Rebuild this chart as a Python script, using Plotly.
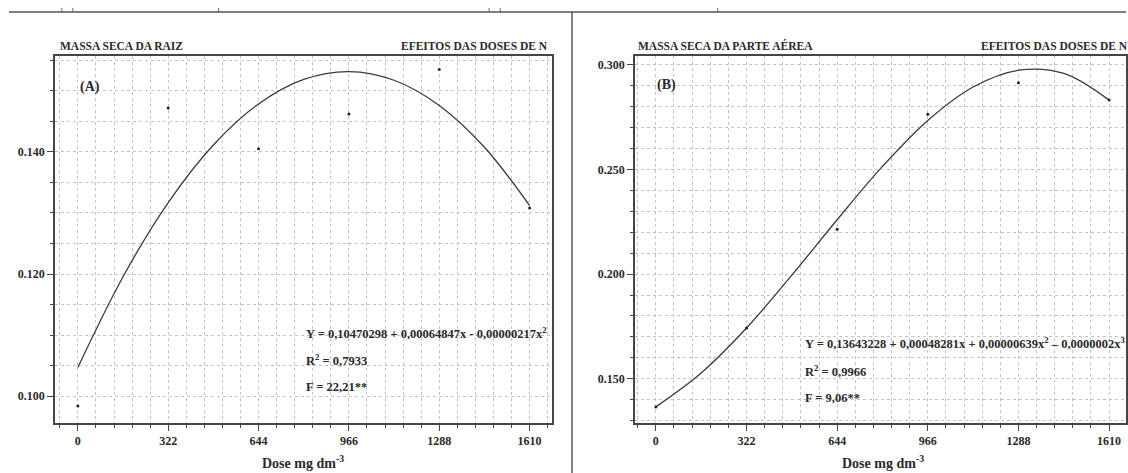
import plotly.graph_objects as go

# ---------------- data ----------------
doses = [0, 322, 644, 966, 1288, 1610]
raiz_obs = [0.0984, 0.1472, 0.1405, 0.1462, 0.1535, 0.1308]
aerea_obs = [0.1365, 0.1742, 0.2215, 0.2765, 0.2915, 0.2832]

curve_doses = [0, 161, 322, 483, 644, 805, 966, 1127, 1288, 1449, 1610]
raiz_fit = [0.10470, 0.11956, 0.13170, 0.14113, 0.14785, 0.15186,
            0.15314, 0.15173, 0.14760, 0.14075, 0.13120]
aerea_fit = [0.1365, 0.1527, 0.1742, 0.1995, 0.2260, 0.2515,
             0.2735, 0.2895, 0.2975, 0.2960, 0.2832]

x_ticks = [0, 322, 644, 966, 1288, 1610]
yA_ticks = [0.100, 0.120, 0.140]
yB_ticks = [0.150, 0.200, 0.250, 0.300]

title_A = "MASSA SECA DA RAIZ"
title_B = "MASSA SECA DA PARTE AÉREA"
effect_title = "EFEITOS DAS DOSES DE N"
eq_A = ["Y = 0,10470298 + 0,00064847x - 0,00000217x<sup>2</sup>",
        "R<sup>2</sup> = 0,7933", "F = 22,21**"]
eq_B = ["Y = 0,13643228 + 0,00048281x + 0,00000639x<sup>2</sup> \u2013 0,0000002x<sup>3</sup>",
        "R<sup>2</sup> = 0,9966", "F = 9,06**"]
x_title = "Dose mg dm<sup>-3</sup>"

# ---------------- layout helpers ----------------
W, H = 1128, 473
def px(x):
    return x / W
def py(y):
    return 1 - y / H

SERIF = "Liberation Serif"
INK = "#2a2a2a"
AX = "#454545"
GRID = "#c4c4c4"

fig = go.Figure()

fig.add_trace(go.Scatter(x=curve_doses, y=raiz_fit, mode="lines",
                         line=dict(color="#3a3a3a", width=1.3, shape="spline", smoothing=1.0),
                         xaxis="x", yaxis="y", showlegend=False, hoverinfo="skip"))
fig.add_trace(go.Scatter(x=doses, y=raiz_obs, mode="markers", marker=dict(color="#222", size=3),
                         xaxis="x", yaxis="y", showlegend=False))
fig.add_trace(go.Scatter(x=curve_doses, y=aerea_fit, mode="lines",
                         line=dict(color="#3a3a3a", width=1.3, shape="spline", smoothing=1.0),
                         xaxis="x2", yaxis="y2", showlegend=False, hoverinfo="skip"))
fig.add_trace(go.Scatter(x=doses, y=aerea_obs, mode="markers", marker=dict(color="#222", size=3),
                         xaxis="x2", yaxis="y2", showlegend=False))

tickfont = dict(family=SERIF, size=12, color=INK, weight=700)

def xaxis(domain, rng, anchor):
    return dict(domain=domain, range=rng, anchor=anchor,
                tickmode="array", tickvals=x_ticks, ticktext=[str(v) for v in x_ticks],
                ticks="outside", ticklen=6, tickwidth=1.2, tickcolor=AX,
                showline=True, linecolor=AX, linewidth=1.6, mirror=True,
                showgrid=True, gridcolor=GRID, gridwidth=1, griddash="3px,3px",
                zeroline=False, tickfont=tickfont,
                minor=dict(tickmode="linear", tick0=0, dtick=64.4, ticks="outside", ticklen=3,
                           tickwidth=1, tickcolor=AX, showgrid=True, gridcolor=GRID,
                           gridwidth=1, griddash="3px,3px"))

def yaxis(domain, rng, anchor, ticks, minor_d):
    return dict(domain=domain, range=rng, anchor=anchor,
                tickmode="array", tickvals=ticks, ticktext=["%.3f" % v for v in ticks],
                ticks="outside", ticklen=6, tickwidth=1.2, tickcolor=AX,
                showline=True, linecolor=AX, linewidth=1.6, mirror=True,
                showgrid=True, gridcolor=GRID, gridwidth=1, griddash="3px,3px",
                zeroline=False, tickfont=tickfont,
                minor=dict(tickmode="linear", tick0=0.1, dtick=minor_d, ticks="outside", ticklen=3,
                           tickwidth=1, tickcolor=AX, showgrid=True, gridcolor=GRID,
                           gridwidth=1, griddash="3px,3px"))

A_left, A_right, B_left = 55, 553, 636
top, bottom = 56, 423

fig.update_layout(
    width=W, height=H, margin=dict(l=0, r=0, t=0, b=0),
    paper_bgcolor="white", plot_bgcolor="white",
    xaxis=xaxis([px(A_left), px(A_right)], [-81.8, 1689.8], "y"),
    yaxis=yaxis([py(bottom), py(top)], [0.0956, 0.1557], "x", yA_ticks, 0.005),
    xaxis2=xaxis([px(B_left), 1.0], [-74.5, 1670], "y2"),
    yaxis2=yaxis([py(bottom), py(top)], [0.1288, 0.3043], "x2", yB_ticks, 0.01),
)

annots = []
def txt(x, y, s, size=11.5, xanchor="left", yanchor="middle"):
    annots.append(dict(x=px(x), y=py(y), xref="paper", yref="paper", text=s, showarrow=False,
                       xanchor=xanchor, yanchor=yanchor,
                       font=dict(family=SERIF, size=size, color=INK, weight=700)))

# panel titles
txt(58, 54, title_A, 11.5, "left", "bottom")
txt(551, 54, effect_title, 11.5, "right", "bottom")
txt(637, 54, title_B, 11.5, "left", "bottom")
txt(1132, 54, effect_title, 11.5, "right", "bottom")
# panel letters
txt(78, 87, "(A)", 14)
txt(656, 85, "(B)", 14)
# equations
for i, s in enumerate(eq_A):
    txt(305, 333 + 27 * i, s, 12.5)
for i, s in enumerate(eq_B):
    txt(804, 343 + 27.5 * i, s, 12.5)
# axis titles
txt(304, 462, x_title, 14, "center")
txt(885, 462, x_title, 14, "center")

fig.update_layout(annotations=annots)

# decoration of the surrounding table: top rule, separator, small marks
shapes = [dict(type="line", xref="paper", yref="paper", x0=px(9), x1=1.0, y0=py(12), y1=py(12),
               line=dict(color="#555", width=1.5)),
          dict(type="line", xref="paper", yref="paper", x0=px(573), x1=px(573), y0=py(12), y1=0,
               line=dict(color="#555", width=1.5))]
for mx in [62, 73, 219, 490, 501, 719]:
    shapes.append(dict(type="line", xref="paper", yref="paper", x0=px(mx), x1=px(mx), y0=py(8), y1=py(12),
                       line=dict(color="#666", width=1)))
fig.update_layout(shapes=shapes)

fig.write_html("out.html")
